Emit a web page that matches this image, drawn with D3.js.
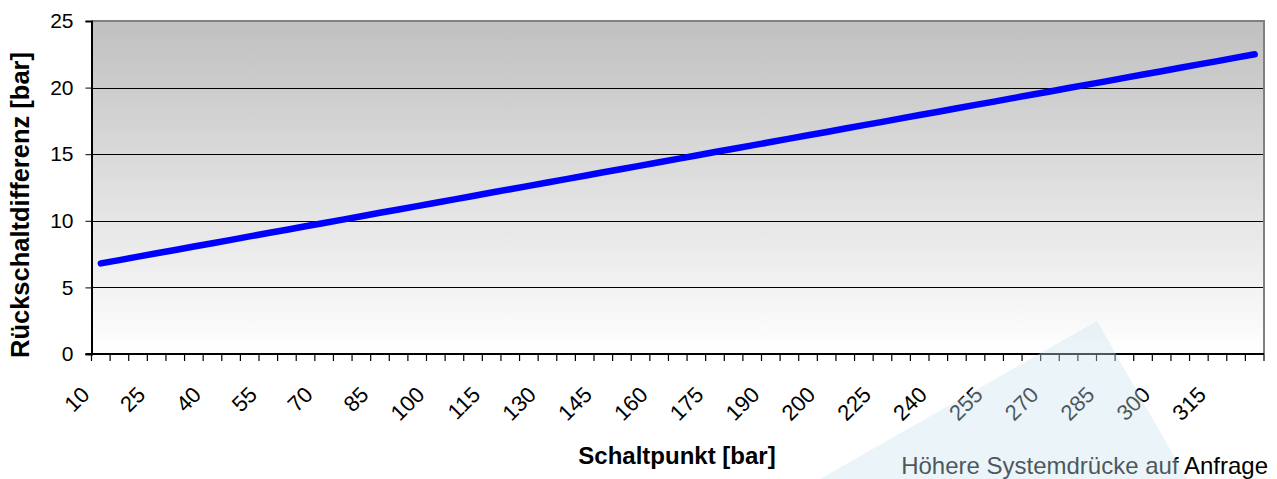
<!DOCTYPE html>
<html>
<head>
<meta charset="utf-8">
<script src="https://cdnjs.cloudflare.com/ajax/libs/d3/7.8.5/d3.min.js"></script>
<style>
  body { margin: 0; background: #fff; }
  svg { display: block; font-family: "Liberation Sans", Arial, sans-serif; }
</style>
</head>
<body>
<div id="chart"></div>
<script>
// Schaltpunkt categories (only every 3rd one gets a label)
const categories = [
  "10", "15", "20", "25", "30", "35", "40", "45", "50", "55",
  "60", "65", "70", "75", "80", "85", "90", "95", "100", "105",
  "110", "115", "120", "125", "130", "135", "140", "145", "150", "155",
  "160", "165", "170", "175", "180", "185", "190", "193", "196", "200",
  "210", "220", "225", "230", "235", "240", "245", "250", "255", "260",
  "265", "270", "275", "280", "285", "290", "295", "300", "305", "310",
  "315", "320", "325"
]
// Rückschaltdifferenz [bar]
const values = [
  6.80, 7.05, 7.31, 7.56, 7.81, 8.07, 8.32, 8.57, 8.83, 9.08,
  9.33, 9.59, 9.84, 10.09, 10.34, 10.60, 10.85, 11.10, 11.36, 11.61,
  11.86, 12.12, 12.37, 12.62, 12.88, 13.13, 13.38, 13.64, 13.89, 14.14,
  14.40, 14.65, 14.90, 15.16, 15.41, 15.66, 15.92, 16.17, 16.42, 16.67,
  16.93, 17.18, 17.43, 17.69, 17.94, 18.19, 18.45, 18.70, 18.95, 19.21,
  19.46, 19.71, 19.97, 20.22, 20.47, 20.73, 20.98, 21.23, 21.49, 21.74,
  21.99, 22.25, 22.50
]
const yTicks = [0, 5, 10, 15, 20, 25]
const gridTicks = [5, 10, 15, 20]

const data = categories.map((c, i) => ({ cat: c, idx: i, value: values[i] }))

const W = 1277, H = 479
const plot = { left: 91.5, right: 1264, top: 21, bottom: 354 }

const svg = d3.select("#chart")
  .append("svg")
    .attr("width", W)
    .attr("height", H)

// scales
const x = d3.scaleBand()
  .domain(data.map(d => d.idx))
  .range([plot.left, plot.right])
  .padding(0)

const y = d3.scaleLinear()
  .domain([0, 25])
  .range([plot.bottom, plot.top])

// plot area gradient
const defs = svg.append("defs")
const grad = defs.append("linearGradient")
  .attr("id", "bg")
  .attr("x1", 0).attr("y1", 0).attr("x2", 0).attr("y2", 1)
grad.append("stop").attr("offset", "0%").attr("stop-color", "#c0c0c0")
grad.append("stop").attr("offset", "100%").attr("stop-color", "#ffffff")

svg.append("rect")
  .attr("x", plot.left)
  .attr("y", plot.top)
  .attr("width", plot.right - plot.left)
  .attr("height", plot.bottom - plot.top)
  .attr("fill", "url(#bg)")

// grid lines
svg.append("g")
  .selectAll("line")
  .data(gridTicks)
  .join("line")
    .attr("x1", plot.left)
    .attr("x2", plot.right)
    .attr("y1", d => Math.round(y(d)) + 0.5)
    .attr("y2", d => Math.round(y(d)) + 0.5)
    .attr("stroke", "#000")
    .attr("stroke-width", 1)

// top + right border
svg.append("path")
  .attr("d", `M${plot.left},${plot.top}H${plot.right}V${plot.bottom}`)
  .attr("fill", "none")
  .attr("stroke", "#808080")
  .attr("stroke-width", 2)

// Y axis
const yAxis = svg.append("g")
  .attr("transform", `translate(${plot.left},0)`)
  .call(d3.axisLeft(y).tickValues(yTicks).tickSize(6).tickPadding(12))
yAxis.select(".domain").attr("stroke", "#000").attr("stroke-width", 2)
yAxis.selectAll(".tick line").attr("stroke", "#000")
yAxis.selectAll("text")
  .attr("font-size", 21)
  .attr("font-family", "Liberation Sans, Arial, sans-serif")
  .attr("fill", "#000")

// X axis: ticks between categories, labels every 3rd
const edges = data.map(d => x(d.idx)).concat([plot.right])
svg.append("line")
  .attr("x1", plot.left - 6).attr("x2", plot.right)
  .attr("y1", plot.bottom).attr("y2", plot.bottom)
  .attr("stroke", "#000")
  .attr("stroke-width", 2)
svg.append("g")
  .selectAll("line")
  .data(edges)
  .join("line")
    .attr("x1", d => d).attr("x2", d => d)
    .attr("y1", plot.bottom).attr("y2", plot.bottom + 7)
    .attr("stroke", "#000")
    .attr("stroke-width", 1.2)

svg.append("g")
  .selectAll("text")
  .data(data.filter(d => d.idx % 3 === 0))
  .join("text")
    .attr("transform", d => `translate(${x(d.idx) + x.bandwidth() / 2 - 10},396) rotate(-45)`)
    .attr("text-anchor", "end")
    .attr("font-size", 22)
    .attr("fill", "#000")
    .text(d => d.cat)

// the line
const line = d3.line()
  .x(d => x(d.idx) + x.bandwidth() / 2)
  .y(d => y(d.value))

svg.append("path")
  .datum(data)
  .attr("d", line)
  .attr("fill", "none")
  .attr("stroke", "#0000ff")
  .attr("stroke-width", 6.5)
  .attr("stroke-linecap", "round")
  .attr("stroke-linejoin", "round")

// axis titles
svg.append("text")
  .attr("x", 677)
  .attr("y", 464)
  .attr("text-anchor", "middle")
  .attr("font-size", 24)
  .attr("font-weight", "bold")
  .text("Schaltpunkt [bar]")

svg.append("text")
  .attr("transform", "translate(29,205) rotate(-90)")
  .attr("text-anchor", "middle")
  .attr("font-size", 25.5)
  .attr("font-weight", "bold")
  .text("Rückschaltdifferenz [bar]")

// footnote
svg.append("text")
  .attr("x", 1268)
  .attr("y", 474)
  .attr("text-anchor", "end")
  .attr("font-size", 24)
  .attr("fill", "#000")
  .text("Höhere Systemdrücke auf Anfrage")

// light blue watermark triangle on top
svg.append("polygon")
  .attr("points", "1097,321 820,479 1187,479")
  .attr("fill", "rgb(200,225,240)")
  .attr("fill-opacity", 0.38)
</script>
</body>
</html>
